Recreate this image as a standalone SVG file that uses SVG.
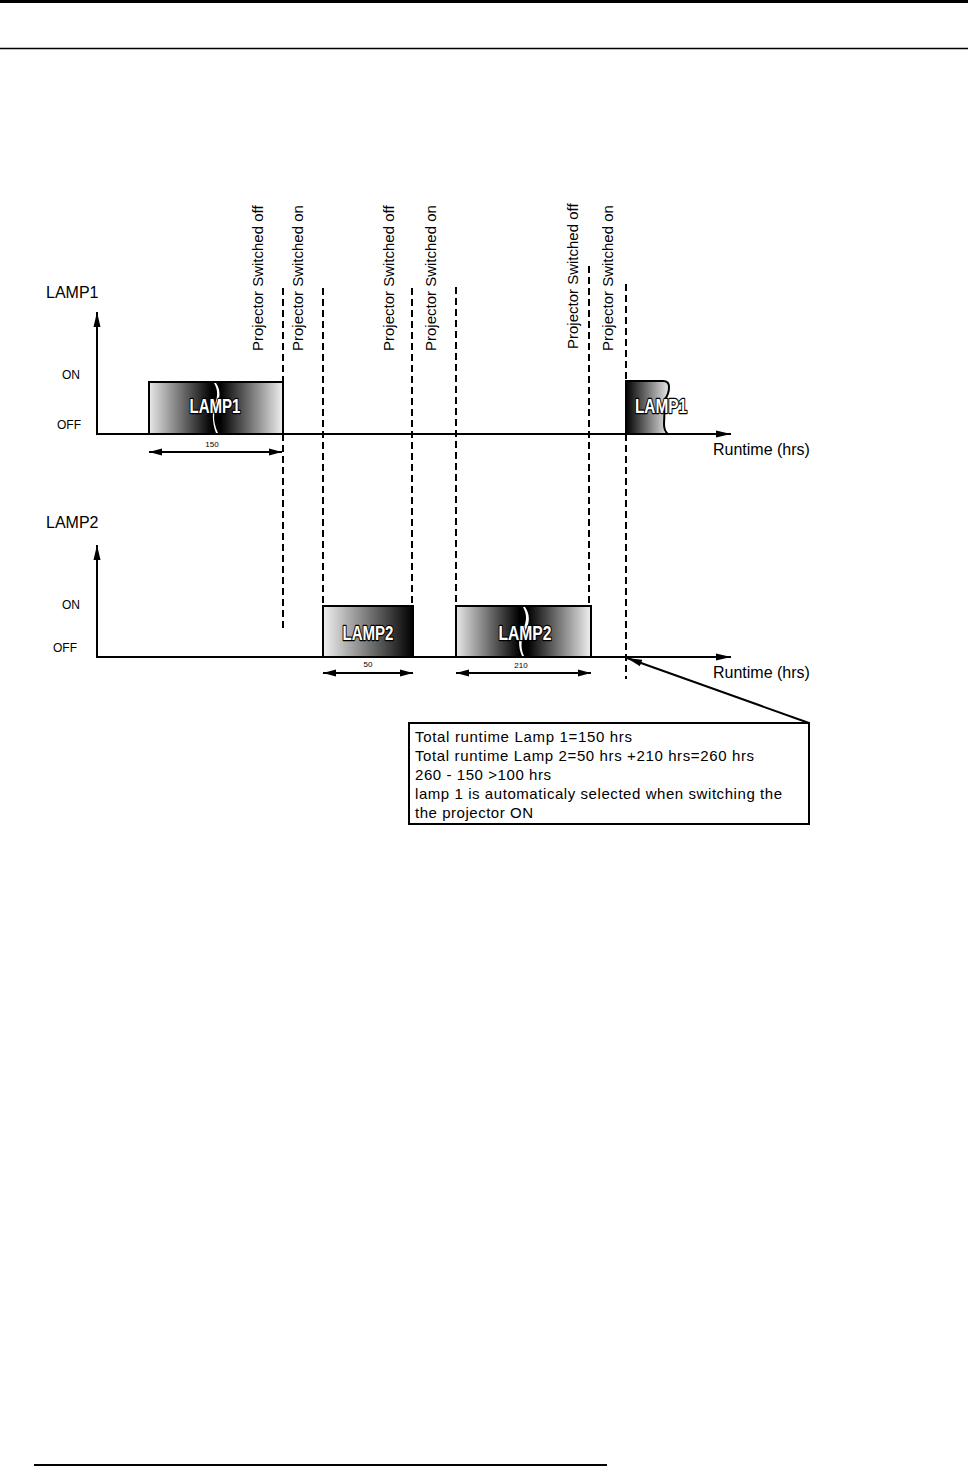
<svg xmlns="http://www.w3.org/2000/svg" width="968" height="1469" viewBox="0 0 968 1469">
<style>
.t{font-family:"Liberation Sans",Arial,sans-serif;fill:#000}
.lbl{font-size:15px}
.big{font-size:16px}
.sm{font-size:12px}
.tiny{font-size:8px}
.rot{font-size:15px}
.lamp{font-family:"Liberation Sans",Arial,sans-serif;font-weight:bold;font-size:20px;fill:#fff;stroke:#000;stroke-width:2.4px;paint-order:stroke;stroke-linejoin:round}
.ax{stroke:#000;stroke-width:2;fill:none}
.dash{stroke:#000;stroke-width:2;stroke-dasharray:7 4;fill:none}
.box{stroke:#000;stroke-width:2}
.crack{fill:#fff;stroke:none}
</style>
<defs>
<linearGradient id="gMid" x1="0" y1="0" x2="1" y2="0">
<stop offset="0" stop-color="#e8e8e8"/>
<stop offset="0.47" stop-color="#000"/>
<stop offset="0.53" stop-color="#000"/>
<stop offset="1" stop-color="#f0f0f0"/>
</linearGradient>
<linearGradient id="gUp" x1="0" y1="0" x2="1" y2="0">
<stop offset="0" stop-color="#f0f0f0"/>
<stop offset="1" stop-color="#000"/>
</linearGradient>
<linearGradient id="gDown" x1="0" y1="0" x2="1" y2="0">
<stop offset="0" stop-color="#000"/>
<stop offset="1" stop-color="#e8e8e8"/>
</linearGradient>
<marker id="ah" markerUnits="userSpaceOnUse" markerWidth="16" markerHeight="8" refX="15" refY="4" orient="auto-start-reverse" viewBox="0 0 16 8">
<path d="M0,0.5 L15,4 L0,7.5 Z" fill="#000"/>
</marker>
<marker id="ahs" markerUnits="userSpaceOnUse" markerWidth="14" markerHeight="8" refX="13" refY="4" orient="auto-start-reverse" viewBox="0 0 14 8">
<path d="M0,0.5 L13,4 L0,7.5 Z" fill="#000"/>
</marker>
</defs>

<g id="page">
<rect x="0" y="0" width="968" height="1469" fill="#fff"/>
<line x1="0" y1="1.5" x2="968" y2="1.5" stroke="#000" stroke-width="3"/>
<line x1="0" y1="48.5" x2="968" y2="48.5" stroke="#000" stroke-width="1.5"/>
<line x1="34" y1="1465" x2="607" y2="1465" stroke="#000" stroke-width="2"/>
</g>

<g id="axes-lamp1">
<text class="t big" x="46" y="298">LAMP1</text>
<text class="t sm" x="62" y="379">ON</text>
<text class="t sm" x="57" y="429">OFF</text>
<line class="ax" x1="97" y1="434" x2="97" y2="312" marker-end="url(#ah)"/>
<line class="ax" x1="96" y1="434" x2="731" y2="434" marker-end="url(#ah)"/>
<text class="t big" x="713" y="455">Runtime (hrs)</text>
</g>

<g id="axes-lamp2">
<text class="t big" x="46" y="528">LAMP2</text>
<text class="t sm" x="62" y="609">ON</text>
<text class="t sm" x="53" y="652">OFF</text>
<line class="ax" x1="97" y1="658" x2="97" y2="545" marker-end="url(#ah)"/>
<line class="ax" x1="96" y1="657" x2="731" y2="657" marker-end="url(#ah)"/>
<text class="t big" x="713" y="678">Runtime (hrs)</text>
</g>

<g id="event-labels">
<text class="t rot" transform="translate(263,351) rotate(-90)">Projector Switched off</text>
<text class="t rot" transform="translate(303,351) rotate(-90)">Projector Switched on</text>
<text class="t rot" transform="translate(394,351) rotate(-90)">Projector Switched off</text>
<text class="t rot" transform="translate(436,351) rotate(-90)">Projector Switched on</text>
<text class="t rot" transform="translate(578,349) rotate(-90)">Projector Switched off</text>
<text class="t rot" transform="translate(613,351) rotate(-90)">Projector Switched on</text>
</g>

<g id="connectors">
<line class="dash" x1="283" y1="288" x2="283" y2="382"/>
<line class="dash" x1="283" y1="434" x2="283" y2="628"/>
<line class="dash" x1="323" y1="288" x2="323" y2="606"/>
<line class="dash" x1="412" y1="288" x2="412" y2="606"/>
<line class="dash" x1="456" y1="287" x2="456" y2="606"/>
<line class="dash" x1="589" y1="266" x2="589" y2="606"/>
<line class="dash" x1="626" y1="284" x2="626" y2="381"/>
<line class="dash" x1="626" y1="434" x2="626" y2="679"/>
<line class="ax" x1="149" y1="452" x2="282" y2="452" marker-start="url(#ahs)" marker-end="url(#ahs)"/>
<line class="ax" x1="323" y1="673" x2="413" y2="673" marker-start="url(#ahs)" marker-end="url(#ahs)"/>
<line class="ax" x1="456" y1="673" x2="591" y2="673" marker-start="url(#ahs)" marker-end="url(#ahs)"/>
<line class="ax" x1="809" y1="723" x2="627" y2="658" marker-end="url(#ah)"/>
</g>

<g id="lamp1-run1">
<rect class="box" x="149" y="382" width="134" height="52" fill="url(#gMid)"/>
<path class="crack" d="M216,383 C221,390 220,398 217,405 C213,413 213,422 218,433 L216,433 C212,422 212,412 215,404 C218,396 218,390 214,383 Z"/>
<text class="lamp" x="215" y="413" text-anchor="middle" textLength="51" lengthAdjust="spacingAndGlyphs">LAMP1</text>
<text class="t tiny" x="212" y="447" text-anchor="middle">150</text>
</g>

<g id="lamp2-run1">
<rect class="box" x="323" y="606" width="90" height="51" fill="url(#gUp)"/>
<text class="lamp" x="368" y="640" text-anchor="middle" textLength="51" lengthAdjust="spacingAndGlyphs">LAMP2</text>
<text class="t tiny" x="368" y="667" text-anchor="middle">50</text>
</g>

<g id="lamp2-run2">
<rect class="box" x="456" y="606" width="135" height="51" fill="url(#gMid)"/>
<path class="crack" d="M525,607 C530,614 530,622 526,630 C521,638 520,647 524,656 L522,656 C518,647 518,637 523,629 C527,621 527,614 523,607 Z"/>
<text class="lamp" x="525" y="640" text-anchor="middle" textLength="53" lengthAdjust="spacingAndGlyphs">LAMP2</text>
<text class="t tiny" x="521" y="668" text-anchor="middle">210</text>
</g>

<g id="lamp1-run2">
<path class="box" d="M626,381 H663 Q669,381 669,387 Q669,394 665,399 L664,424 Q664,431 668,434 H626 Z" fill="url(#gDown)"/>
<text class="lamp" x="661" y="413" text-anchor="middle" textLength="52" lengthAdjust="spacingAndGlyphs">LAMP1</text>
</g>

<g id="annotation">
<rect x="409" y="723" width="400" height="101" fill="#fff" stroke="#000" stroke-width="2"/>
<text class="t lbl" x="415" y="742" textLength="217" lengthAdjust="spacing">Total runtime Lamp 1=150 hrs</text>
<text class="t lbl" x="415" y="761" textLength="339" lengthAdjust="spacing">Total runtime Lamp 2=50 hrs +210 hrs=260 hrs</text>
<text class="t lbl" x="415" y="780" textLength="136" lengthAdjust="spacing">260 - 150 &gt;100 hrs</text>
<text class="t lbl" x="415" y="799" textLength="367" lengthAdjust="spacing">lamp 1 is automaticaly selected when switching the</text>
<text class="t lbl" x="415" y="818" textLength="118" lengthAdjust="spacing">the projector ON</text>
</g>
</svg>
